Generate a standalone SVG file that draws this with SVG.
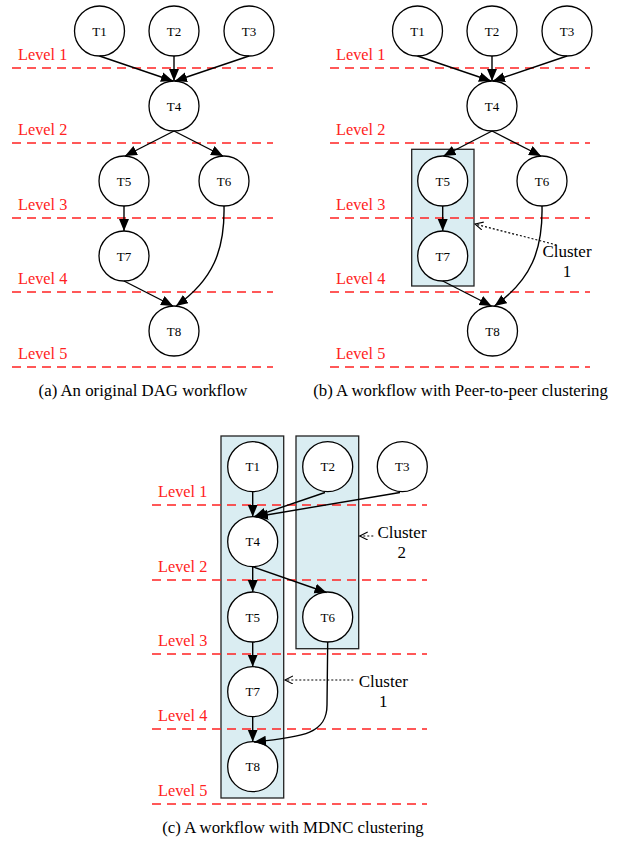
<svg xmlns="http://www.w3.org/2000/svg" width="622" height="842" viewBox="0 0 622 842">
<style>
.lv{stroke:#f22;stroke-width:1.4;stroke-dasharray:9,6;fill:none}
text{font-family:'Liberation Serif','Times New Roman',Tinos,'DejaVu Serif',serif}
.lt{font-size:16.3px;fill:#f22}
.nd circle{fill:#fff;stroke:#000;stroke-width:1.3}
.nd text{font-size:13px;fill:#000;text-anchor:middle}
.ed{stroke:#000;stroke-width:1.4;fill:none;marker-end:url(#ah)}
.dt{stroke:#000;stroke-width:1.2;fill:none;stroke-dasharray:2,2;marker-end:url(#oh)}
.cl{fill:#daedf2;stroke:#222;stroke-width:1.3}
.ct{font-size:17px;fill:#000;text-anchor:middle}
.cap{font-size:16.8px;fill:#000;text-anchor:middle}
</style>
<defs>
<marker id="ah" markerUnits="userSpaceOnUse" markerWidth="14" markerHeight="12" refX="12" refY="5" orient="auto" viewBox="0 0 14 12">
<path d="M0,0 L12,5 L0,10 z" fill="#000"/>
</marker>
<marker id="oh" markerUnits="userSpaceOnUse" markerWidth="10" markerHeight="10" refX="8" refY="4" orient="auto" viewBox="0 0 10 10">
<path d="M0,0 L8,4 L0,8" fill="none" stroke="#000" stroke-width="1.1"/>
</marker>
</defs>

<!-- Panel (a) -->
<g id="levels-a">
<line class="lv" x1="12" y1="68" x2="273" y2="68"/>
<line class="lv" x1="12" y1="143" x2="273" y2="143"/>
<line class="lv" x1="12" y1="218" x2="273" y2="218"/>
<line class="lv" x1="12" y1="292" x2="273" y2="292"/>
<line class="lv" x1="12" y1="367" x2="273" y2="367"/>
<text class="lt" x="18" y="60">Level 1</text>
<text class="lt" x="18" y="135">Level 2</text>
<text class="lt" x="18" y="210">Level 3</text>
<text class="lt" x="18" y="284">Level 4</text>
<text class="lt" x="18" y="359">Level 5</text>
</g>
<g id="a-T1" class="nd"><circle cx="99.5" cy="31" r="25"/><text x="99.5" y="35.5">T1</text></g>
<g id="a-T2" class="nd"><circle cx="174" cy="31" r="25"/><text x="174" y="35.5">T2</text></g>
<g id="a-T3" class="nd"><circle cx="249" cy="31" r="25"/><text x="249" y="35.5">T3</text></g>
<g id="a-T4" class="nd"><circle cx="174" cy="106" r="25"/><text x="174" y="110.5">T4</text></g>
<g id="a-T5" class="nd"><circle cx="124" cy="181" r="25"/><text x="124" y="185.5">T5</text></g>
<g id="a-T6" class="nd"><circle cx="224" cy="181" r="25"/><text x="224" y="185.5">T6</text></g>
<g id="a-T7" class="nd"><circle cx="124" cy="256" r="25"/><text x="124" y="260.5">T7</text></g>
<g id="a-T8" class="nd"><circle cx="174" cy="331" r="25"/><text x="174" y="335.5">T8</text></g>
<g id="edges-a">
<line class="ed" x1="99.5" y1="56" x2="173" y2="81"/>
<line class="ed" x1="174" y1="56" x2="174" y2="81"/>
<line class="ed" x1="249" y1="56" x2="175" y2="81"/>
<line class="ed" x1="174" y1="131" x2="125" y2="156"/>
<line class="ed" x1="174" y1="131" x2="223" y2="156"/>
<line class="ed" x1="124" y1="206" x2="124" y2="231"/>
<line class="ed" x1="124" y1="281" x2="173" y2="306"/>
<path class="ed" d="M224,206 C225,250 213,280 176,306"/>
</g>
<text class="cap" x="143" y="396">(a) An original DAG workflow</text>

<!-- Panel (b) -->
<g id="b-cluster1"><rect class="cl" x="411.7" y="149.3" width="62.3" height="136.7"/></g>
<g id="levels-b">
<line class="lv" x1="330" y1="68" x2="590" y2="68"/>
<line class="lv" x1="330" y1="143" x2="590" y2="143"/>
<line class="lv" x1="330" y1="218" x2="590" y2="218"/>
<line class="lv" x1="330" y1="292" x2="590" y2="292"/>
<line class="lv" x1="330" y1="367" x2="590" y2="367"/>
<text class="lt" x="336" y="60">Level 1</text>
<text class="lt" x="336" y="135">Level 2</text>
<text class="lt" x="336" y="210">Level 3</text>
<text class="lt" x="336" y="284">Level 4</text>
<text class="lt" x="336" y="359">Level 5</text>
</g>
<g id="b-T1" class="nd"><circle cx="417.5" cy="31" r="25"/><text x="417.5" y="35.5">T1</text></g>
<g id="b-T2" class="nd"><circle cx="492" cy="31" r="25"/><text x="492" y="35.5">T2</text></g>
<g id="b-T3" class="nd"><circle cx="567" cy="31" r="25"/><text x="567" y="35.5">T3</text></g>
<g id="b-T4" class="nd"><circle cx="492" cy="106" r="25"/><text x="492" y="110.5">T4</text></g>
<g id="b-T5" class="nd"><circle cx="442.7" cy="181" r="25"/><text x="442.7" y="185.5">T5</text></g>
<g id="b-T6" class="nd"><circle cx="542" cy="181" r="25"/><text x="542" y="185.5">T6</text></g>
<g id="b-T7" class="nd"><circle cx="442.7" cy="256" r="25"/><text x="442.7" y="260.5">T7</text></g>
<g id="b-T8" class="nd"><circle cx="492.5" cy="331" r="25"/><text x="492.5" y="335.5">T8</text></g>
<g id="edges-b">
<line class="ed" x1="417.5" y1="56" x2="491" y2="81"/>
<line class="ed" x1="492" y1="56" x2="492" y2="81"/>
<line class="ed" x1="567" y1="56" x2="493" y2="81"/>
<line class="ed" x1="492" y1="131" x2="443.5" y2="156"/>
<line class="ed" x1="492" y1="131" x2="541" y2="156"/>
<line class="ed" x1="442.7" y1="206" x2="442.7" y2="231"/>
<line class="ed" x1="442.7" y1="281" x2="491.5" y2="306"/>
<path class="ed" d="M542,206 C543,250 531,280 494.5,306"/>
<line class="dt" x1="556.7" y1="245" x2="475" y2="224"/>
</g>
<g id="b-label"><text class="ct" x="567" y="257">Cluster</text><text class="ct" x="567" y="277">1</text></g>
<text class="cap" x="460.5" y="396">(b) A workflow with Peer-to-peer clustering</text>

<!-- Panel (c) -->
<g id="c-cluster1"><rect class="cl" x="221" y="436" width="62.7" height="362"/></g>
<g id="c-cluster2"><rect class="cl" x="296" y="436" width="62.7" height="212.7"/></g>
<g id="levels-c">
<line class="lv" x1="152" y1="505" x2="427" y2="505"/>
<line class="lv" x1="152" y1="580" x2="427" y2="580"/>
<line class="lv" x1="152" y1="654" x2="427" y2="654"/>
<line class="lv" x1="152" y1="729" x2="427" y2="729"/>
<line class="lv" x1="152" y1="804" x2="427" y2="804"/>
<text class="lt" x="158" y="497">Level 1</text>
<text class="lt" x="158" y="572">Level 2</text>
<text class="lt" x="158" y="646">Level 3</text>
<text class="lt" x="158" y="721">Level 4</text>
<text class="lt" x="158" y="796">Level 5</text>
</g>
<g id="c-T1" class="nd"><circle cx="252.7" cy="466.7" r="25"/><text x="252.7" y="471.2">T1</text></g>
<g id="c-T2" class="nd"><circle cx="327.7" cy="466.7" r="25"/><text x="327.7" y="471.2">T2</text></g>
<g id="c-T3" class="nd"><circle cx="402.3" cy="466.7" r="25"/><text x="402.3" y="471.2">T3</text></g>
<g id="c-T4" class="nd"><circle cx="252.7" cy="541.7" r="25"/><text x="252.7" y="546.2">T4</text></g>
<g id="c-T5" class="nd"><circle cx="252.7" cy="617" r="25"/><text x="252.7" y="621.5">T5</text></g>
<g id="c-T6" class="nd"><circle cx="327.7" cy="617" r="25"/><text x="327.7" y="621.5">T6</text></g>
<g id="c-T7" class="nd"><circle cx="252.7" cy="691.7" r="25"/><text x="252.7" y="696.2">T7</text></g>
<g id="c-T8" class="nd"><circle cx="252.7" cy="766.7" r="25"/><text x="252.7" y="771.2">T8</text></g>
<g id="edges-c">
<line class="ed" x1="252.7" y1="491.7" x2="252.7" y2="516.7"/>
<line class="ed" x1="325" y1="492.5" x2="254" y2="516.7"/>
<line class="ed" x1="400" y1="492.5" x2="256" y2="516.7"/>
<line class="ed" x1="252.7" y1="566.7" x2="252.7" y2="592"/>
<line class="ed" x1="252.7" y1="566.7" x2="326.5" y2="592.5"/>
<line class="ed" x1="252.7" y1="642" x2="252.7" y2="666.7"/>
<line class="ed" x1="252.7" y1="716.7" x2="252.7" y2="741.7"/>
<path class="ed" d="M327.7,642 L327,705 C327,733 305,737 254,742"/>
<line class="dt" x1="373.3" y1="536" x2="359.7" y2="536"/>
<line class="dt" x1="353.3" y1="680" x2="285" y2="680"/>
</g>
<g id="c-label2"><text class="ct" x="402" y="538">Cluster</text><text class="ct" x="401.7" y="558">2</text></g>
<g id="c-label1"><text class="ct" x="383.3" y="687">Cluster</text><text class="ct" x="383.3" y="707">1</text></g>
<text class="cap" x="293" y="833">(c) A workflow with MDNC clustering</text>
</svg>
